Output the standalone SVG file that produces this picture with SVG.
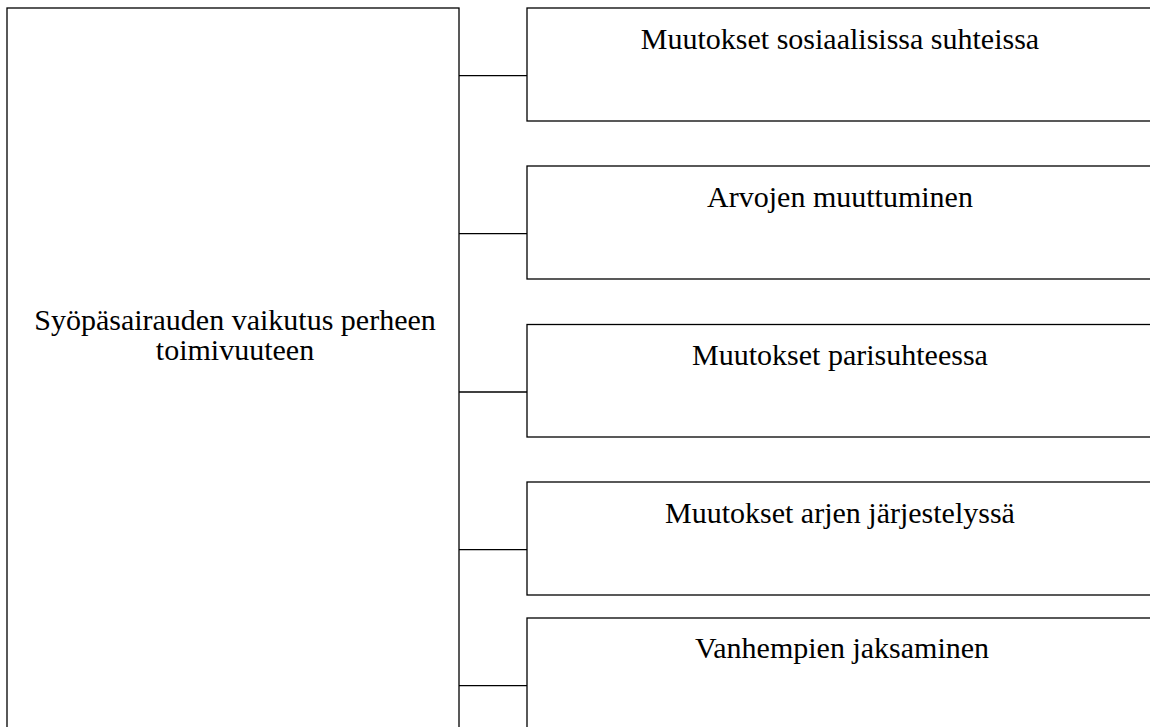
<svg xmlns="http://www.w3.org/2000/svg" width="1150" height="727" viewBox="0 0 1150 727">
  <style>
    .box { fill: #ffffff; stroke: #000000; stroke-width: 1.3; }
    .conn { stroke: #000000; stroke-width: 1.3; fill: none; }
    .lbl { font-family: "Liberation Serif", "Times New Roman", serif; font-size: 30px; fill: #000000; text-anchor: middle; }
  </style>
  <rect x="0" y="0" width="1150" height="727" fill="#ffffff"/>
  <g id="connectors">
    <line class="conn" x1="459" y1="75.7" x2="527" y2="75.7"/>
    <line class="conn" x1="459" y1="233.7" x2="527" y2="233.7"/>
    <line class="conn" x1="459" y1="392" x2="527" y2="392"/>
    <line class="conn" x1="459" y1="549.7" x2="527" y2="549.7"/>
    <line class="conn" x1="459" y1="685.7" x2="527" y2="685.7"/>
  </g>
  <g id="main">
    <rect class="box" x="7" y="8" width="452" height="740"/>
    <text class="lbl" x="235" y="330">Syöpäsairauden vaikutus perheen</text>
    <text class="lbl" x="235" y="360">toimivuuteen</text>
  </g>
  <g id="n1">
    <rect class="box" x="527" y="8" width="640" height="113"/>
    <text class="lbl" x="840" y="49">Muutokset sosiaalisissa suhteissa</text>
  </g>
  <g id="n2">
    <rect class="box" x="527" y="166" width="640" height="113"/>
    <text class="lbl" x="840" y="207">Arvojen muuttuminen</text>
  </g>
  <g id="n3">
    <rect class="box" x="527" y="324.5" width="640" height="112.5"/>
    <text class="lbl" x="840" y="365">Muutokset parisuhteessa</text>
  </g>
  <g id="n4">
    <rect class="box" x="527" y="482" width="640" height="113"/>
    <text class="lbl" x="840" y="523">Muutokset arjen järjestelyssä</text>
  </g>
  <g id="n5">
    <rect class="box" x="527" y="618" width="640" height="140"/>
    <text class="lbl" x="842" y="658">Vanhempien jaksaminen</text>
  </g>
</svg>
